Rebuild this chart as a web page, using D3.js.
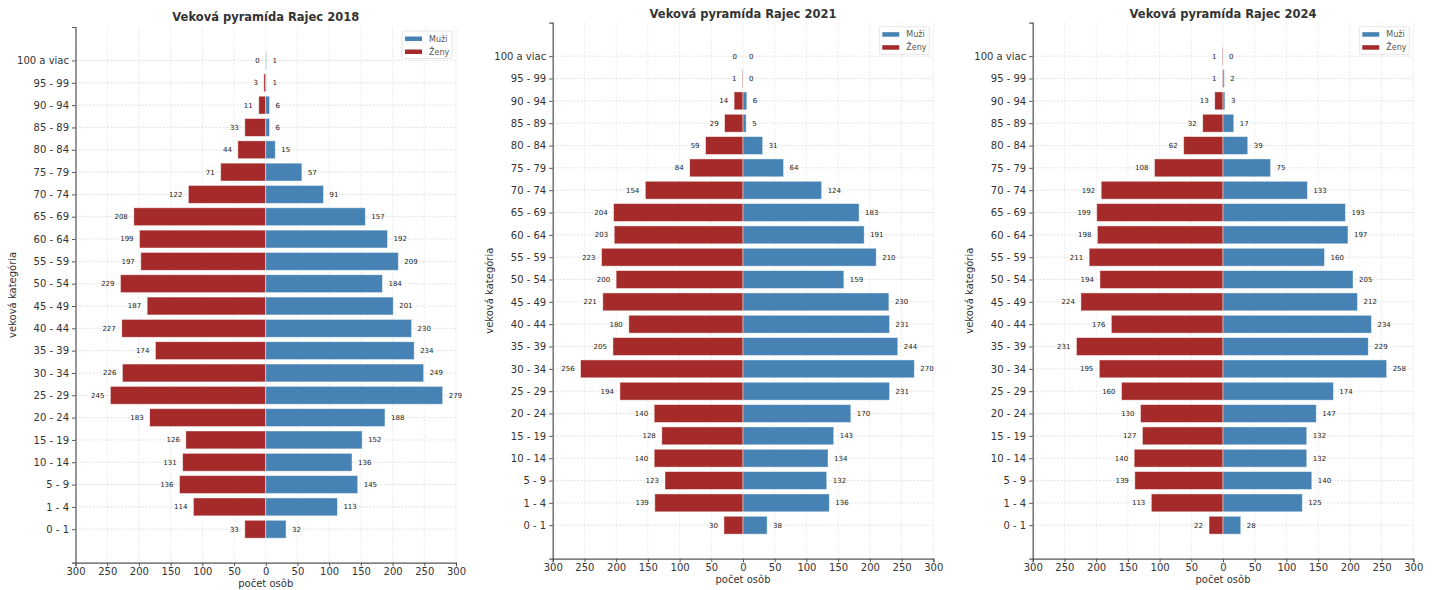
<!DOCTYPE html>
<html>
<head>
<meta charset="utf-8">
<script src="https://cdn.jsdelivr.net/npm/d3@7"></script>
<style>
  body { margin: 0; background: #fff; }
  svg { display: block; font-family: "DejaVu Sans", sans-serif; }
</style>
</head>
<body>
<svg id="chart" width="1436" height="590"></svg>
<script>
const categories = ["100 a viac","95 - 99","90 - 94","85 - 89","80 - 84","75 - 79","70 - 74","65 - 69","60 - 64","55 - 59","50 - 54","45 - 49","40 - 44","35 - 39","30 - 34","25 - 29","20 - 24","15 - 19","10 - 14","5 - 9","1 - 4","0 - 1"];
const years = [2018, 2021, 2024];
const women2018 = [0,3,11,33,44,71,122,208,199,197,229,187,227,174,226,245,183,126,131,136,114,33];
const men2018   = [1,1,6,6,15,57,91,157,192,209,184,201,230,234,249,279,188,152,136,145,113,32];
const women2021 = [0,1,14,29,59,84,154,204,203,223,200,221,180,205,256,194,140,128,140,123,139,30];
const men2021   = [0,0,6,5,31,64,124,183,191,210,159,230,231,244,270,231,170,143,134,132,136,38];
const women2024 = [1,1,13,32,62,108,192,199,198,211,194,224,176,231,195,160,130,127,140,139,113,22];
const men2024   = [0,2,3,17,39,75,133,193,197,160,205,212,234,229,258,174,147,132,132,140,125,28];
const xTicks = [-300,-250,-200,-150,-100,-50,0,50,100,150,200,250,300];
const seriesNames = ["Muži", "Ženy"];

const womenByYear = [women2018, women2021, women2024];
const menByYear = [men2018, men2021, men2024];

const COLOR_M = "#4682b4", COLOR_F = "#a52a2a";
const layout = [
  {x0: 75.5,  x1: 456,    yTop: 27,   yBot: 562.7, titleY: 17, ylabX: 12},
  {x0: 552.7, x1: 933.3,  yTop: 22.7, yBot: 558.7, titleY: 14, ylabX: 489},
  {x0: 1032.7,x1: 1413.3, yTop: 22.7, yBot: 558.7, titleY: 14, ylabX: 969}
];

const svg = d3.select("#chart");

years.forEach((yr, p) => {
  const L = layout[p];
  const women = womenByYear[p], men = menByYear[p];
  const g = svg.append("g");
  const x = d3.scaleLinear().domain([-300, 300]).range([L.x0, L.x1]);
  const y = d3.scaleLinear().domain([-1.5, categories.length + 0.5]).range([L.yTop, L.yBot]);
  const step = y(1) - y(0);
  const bh = step * 0.8;

  // grid
  g.append("g").selectAll("line").data(xTicks).join("line")
    .attr("x1", d => x(d)).attr("x2", d => x(d))
    .attr("y1", L.yTop).attr("y2", L.yBot)
    .attr("stroke", "#e2e2e2").attr("stroke-width", 0.7).attr("stroke-dasharray", "2,1.5");
  g.append("g").selectAll("line").data(categories).join("line")
    .attr("x1", L.x0).attr("x2", L.x1)
    .attr("y1", (d, i) => y(i)).attr("y2", (d, i) => y(i))
    .attr("stroke", "#d6d6d6").attr("stroke-width", 0.7).attr("stroke-dasharray", "2,1.5");

  // bars
  g.append("g").selectAll("rect").data(women).join("rect")
    .attr("x", d => x(-d)).attr("width", d => x(0) - x(-d))
    .attr("y", (d, i) => y(i) - bh / 2).attr("height", bh)
    .attr("fill", COLOR_F).attr("stroke", "rgba(255,255,255,0.55)").attr("stroke-width", 0.8);
  g.append("g").selectAll("rect").data(men).join("rect")
    .attr("x", x(0)).attr("width", d => x(d) - x(0))
    .attr("y", (d, i) => y(i) - bh / 2).attr("height", bh)
    .attr("fill", COLOR_M).attr("stroke", "rgba(255,255,255,0.55)").attr("stroke-width", 0.8);

  // value labels
  g.append("g").selectAll("text").data(women).join("text")
    .attr("x", d => x(-d) - 6).attr("y", (d, i) => y(i))
    .attr("dy", "0.35em").attr("text-anchor", "end")
    .attr("font-size", 7).attr("fill", "#222").text(d => d);
  g.append("g").selectAll("text").data(men).join("text")
    .attr("x", d => x(d) + 6).attr("y", (d, i) => y(i))
    .attr("dy", "0.35em").attr("text-anchor", "start")
    .attr("font-size", 7).attr("fill", "#222").text(d => d);

  // axes
  const yAxis = d3.axisLeft(y).tickValues(d3.range(categories.length))
    .tickFormat(i => categories[i]).tickSize(3.5).tickPadding(3);
  const ya = g.append("g").attr("transform", `translate(${L.x0},0)`).call(yAxis);
  ya.select(".domain").attr("stroke", "#555").attr("stroke-width", 1.2);
  ya.selectAll(".tick line").attr("stroke", "#555");
  ya.selectAll(".tick text").attr("font-size", 10).attr("fill", "#333")
    .attr("font-family", "DejaVu Sans, sans-serif");

  const xAxis = d3.axisBottom(x).tickValues(xTicks).tickFormat(d => Math.abs(d))
    .tickSize(3.5).tickPadding(2);
  const xa = g.append("g").attr("transform", `translate(0,${L.yBot})`).call(xAxis);
  xa.select(".domain").attr("stroke", "#555").attr("stroke-width", 1.2);
  xa.selectAll(".tick line").attr("stroke", "#555");
  xa.selectAll(".tick text").attr("font-size", 10).attr("fill", "#333")
    .attr("font-family", "DejaVu Sans, sans-serif");

  // axis titles
  g.append("text").attr("x", x(0)).attr("y", L.yBot + 24)
    .attr("text-anchor", "middle").attr("font-size", 10).attr("fill", "#333").text("počet osôb");
  g.append("text")
    .attr("transform", `translate(${L.ylabX},${(L.yTop + L.yBot) / 2}) rotate(-90)`)
    .attr("text-anchor", "middle").attr("dy", "0.35em")
    .attr("font-size", 10).attr("fill", "#333").text("veková kategória");

  // title
  g.append("text").attr("x", x(0)).attr("y", L.titleY).attr("dy", "0.35em")
    .attr("text-anchor", "middle").attr("font-size", 11.5).attr("font-weight", "bold")
    .attr("fill", "#333").text(`Veková pyramída Rajec ${yr}`);

  // legend
  const lg = g.append("g").attr("transform", `translate(${L.x1 - 54},${L.yTop + 4})`);
  lg.append("rect").attr("width", 50).attr("height", 27.5).attr("rx", 1.5)
    .attr("fill", "#fff").attr("fill-opacity", 0.85).attr("stroke", "#ddd").attr("stroke-width", 0.8);
  [COLOR_M, COLOR_F].forEach((c, k) => {
    lg.append("rect").attr("x", 3).attr("y", 5.5 + k * 13).attr("width", 17).attr("height", 4.5).attr("fill", c);
    lg.append("text").attr("x", 27).attr("y", 7.8 + k * 13).attr("dy", "0.35em")
      .attr("font-size", 8).attr("fill", "#555").text(seriesNames[k]);
  });
});
</script>
</body>
</html>
